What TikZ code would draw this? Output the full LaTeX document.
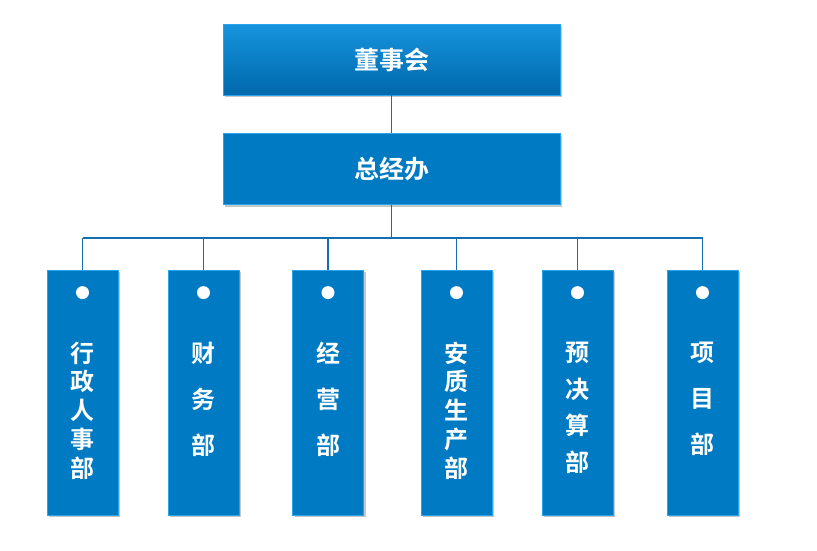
\documentclass[tikz,border=0pt]{standalone}
\usepackage{fontspec}
\newfontfamily\cjkbold[BoldFont={Noto Sans CJK SC Bold}]{Noto Sans CJK SC}
\usetikzlibrary{positioning}
\usetikzlibrary{shadows}
\definecolor{boxblue}{RGB}{0,122,194}
\definecolor{topblue}{RGB}{22,148,222}
\definecolor{lowblue}{RGB}{0,104,172}
\definecolor{edgeblue}{RGB}{40,164,238}
\definecolor{lineblue}{RGB}{20,110,176}

\begin{document}
\begin{tikzpicture}[x=1pt,y=-1pt,
    box/.style={draw=edgeblue, line width=0.8pt, fill=boxblue, inner sep=0pt,
      drop shadow={shadow xshift=2pt, shadow yshift=-2pt, fill=black, opacity=0.22}},
    headbox/.style={box, minimum width=337pt, minimum height=71pt,
      text=white, font=\cjkbold\bfseries\fontsize{25}{30}\selectfont},
    deptbox/.style={box, minimum width=71pt, minimum height=245pt},
    depttext/.style={text=white, inner sep=0pt, align=center, anchor=north,
      font=\cjkbold\bfseries\fontsize{24}{#1}\selectfont},
    hole/.style={circle, fill=white, inner sep=0pt, minimum size=13pt},
    link/.style={draw=lineblue, line width=1.1pt}]

\useasboundingbox (0,0) rectangle (817,550);

%---------------------------------------
% Top levels
%---------------------------------------
\node[headbox, top color=topblue, bottom color=lowblue] (board) at (391.5,59.5) {董事会};
\node[headbox] (office) at (391.5,169) {总经办};

\coordinate (bus) at (391.5,238);
\draw[link] (board.south) -- (office.south |- office.north);
\draw[link] (office.south) -- (bus);

%---------------------------------------
% Departments
%---------------------------------------
\node[deptbox] (admin)   at (82.5,392.5)  {};
\node[deptbox] (finance) at (203.5,392.5) {};
\node[deptbox] (market)  at (328,392.5)   {};
\node[deptbox] (safety)  at (456.5,392.5) {};
\node[deptbox] (budget)  at (577.5,392.5) {};
\node[deptbox] (project) at (702.5,392.5) {};

\draw[link] (admin.north |- bus) -- (project.north |- bus);
\foreach \d in {admin,finance,market,safety,budget,project}{
  \draw[link] (\d.north |- bus) -- (\d.north);
  \node[hole] (\d-hole) at ([yshift=-23pt]\d.north) {};
}

% vertical labels
\node[depttext=28.7] (admin-t)   at ([yshift=-72pt]admin.north)   {行\\政\\人\\事\\部};
\node[depttext=46]   (finance-t) at ([yshift=-72pt]finance.north) {财\\务\\部};
\node[depttext=46]   (market-t)  at ([yshift=-72pt]market.north)  {经\\营\\部};
\node[depttext=28.7] (safety-t)  at ([yshift=-72pt]safety.north)  {安\\质\\生\\产\\部};
\node[depttext=36.7] (budget-t)  at ([yshift=-72pt]budget.north)  {预\\决\\算\\部};
\node[depttext=46]   (project-t) at ([yshift=-72pt]project.north) {项\\目\\部};

\end{tikzpicture}
\end{document}
